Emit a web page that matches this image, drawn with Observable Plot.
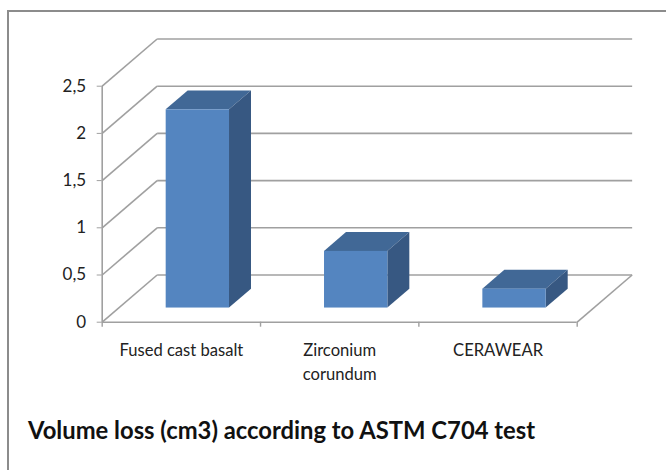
<!DOCTYPE html>
<html>
<head>
<meta charset="utf-8">
<script src="https://cdn.jsdelivr.net/npm/d3@7"></script>
<script src="https://cdn.jsdelivr.net/npm/@observablehq/plot@0.6"></script>
<style>
  html, body { margin: 0; padding: 0; background: #fff; width: 666px; height: 470px; overflow: hidden; }
  #frame { position: absolute; left: 7px; top: 10px; width: 659px; height: 460px; border-left: 2px solid #8c8c8c; border-top: 2px solid #8c8c8c; box-sizing: border-box; }
  #chart { position: absolute; left: 0; top: 0; }
  #chart svg { display: block; background: transparent; }
  #title { position: absolute; left: 28px; top: 416px; font: 700 23.8px Lato, sans-serif; color: #111; white-space: nowrap; }
</style>
</head>
<body>
<div id="frame"></div>
<div id="chart"></div>
<div id="title">Volume loss (cm3) according to ASTM C704 test</div>
<script>
const categories = ["Fused cast basalt", "Zirconium\ncorundum", "CERAWEAR"];
const values = [2.1, 0.6, 0.2];
const yTicks = [0, 0.5, 1, 1.5, 2, 2.5];
const yTickLabels = ["0", "0,5", "1", "1,5", "2", "2,5"];

const depthX = 0.347;   // category units per full depth
const depthY = 0.5;     // value units per full depth
const gridColor = "#a0a0a0";

const X = (c, d) => c + d * depthX;
const Y = (v, d) => v + d * depthY;

const left = yTicks.map(v => ({x1: X(0, 0), y1: Y(v, 0), x2: X(0, 1), y2: Y(v, 1)}));
const back = yTicks.map(v => ({x1: X(0, 1), y1: Y(v, 1), x2: X(3, 1), y2: Y(v, 1)}));
const floorRight = [{x1: X(3, 0), y1: 0, x2: X(3, 1), y2: Y(0, 1)}];

const bars = values.map((v, i) => ({i, v, c0: i + 0.3, c1: i + 0.7}));
const topFace = bars.flatMap(b => [b.c0, b.c1].map(c => ({
  z: b.i, x1: X(c, 0.3), y1: Y(b.v, 0.3), x2: X(c, 0.7), y2: Y(b.v, 0.7)
})));
const sideFace = bars.flatMap(b => [0.3, 0.7].map(d => ({
  z: b.i, x: X(b.c1, d), y1: Y(0, d), y2: Y(b.v, d)
})));
const labels = categories.map((t, i) => ({t, x: i + 0.5}));

const chart = Plot.plot({
  width: 666,
  height: 470,
  marginLeft: 101.7,
  marginRight: 89.3,
  marginTop: 85.7,
  marginBottom: 148.3,
  style: {background: "transparent"},
  x: {type: "linear", domain: [0, 3]},
  y: {domain: [0, 2.5]},
  marks: [
    Plot.link(left, {x1: "x1", y1: "y1", x2: "x2", y2: "y2", stroke: gridColor, strokeWidth: 1.6}),
    Plot.link(back, {x1: "x1", y1: "y1", x2: "x2", y2: "y2", stroke: gridColor, strokeWidth: 1.6}),
    Plot.link(floorRight, {x1: "x1", y1: "y1", x2: "x2", y2: "y2", stroke: gridColor, strokeWidth: 1.6}),
    Plot.ruleX([0], {y1: 0, y2: 2.5, stroke: gridColor, strokeWidth: 1.6}),
    Plot.ruleY([0], {x1: 0, x2: 3, stroke: gridColor, strokeWidth: 1.6}),
    Plot.area(topFace, {x1: "x1", y1: "y1", x2: "x2", y2: "y2", z: "z", fill: "#416896"}),
    Plot.area(sideFace, {x1: "x", x2: "x", y1: "y1", y2: "y2", z: "z", fill: "#375882"}),
    Plot.rect(bars, {
      x1: b => X(b.c0, 0.3), x2: b => X(b.c1, 0.3),
      y1: () => Y(0, 0.3), y2: b => Y(b.v, 0.3),
      fill: "#5485c0"
    }),
    Plot.axisY(yTicks, {
      anchor: "left", label: null, tickSize: 5, tickPadding: 11,
      tickFormat: v => yTickLabels[yTicks.indexOf(v)],
      stroke: gridColor, fill: "#222", fontSize: 17, fontFamily: "Lato, sans-serif"
    }),
    Plot.axisX([0, 1, 2, 3], {
      anchor: "bottom", label: null, tickSize: 5, tickFormat: () => "",
      stroke: gridColor, strokeWidth: 1.4
    }),
    Plot.text(labels, {
      x: "x", y: 0, text: "t", dy: 17, lineAnchor: "top", lineHeight: 1.45,
      fontSize: 16.6, fontFamily: "Lato, sans-serif", fill: "#222"
    })
  ]
});
document.getElementById("chart").append(chart);
</script>
</body>
</html>
